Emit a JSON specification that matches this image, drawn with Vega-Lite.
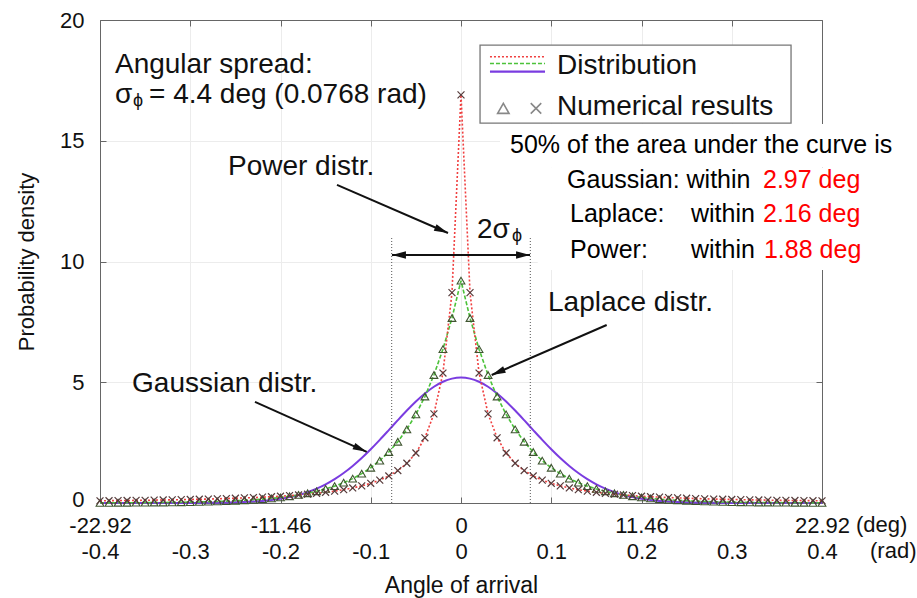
{
  "$schema": "https://vega.github.io/schema/vega-lite/v6.json",
  "width": 722,
  "height": 483,
  "autosize": {"type": "none"},
  "padding": {"left": 100, "top": 20, "right": 95, "bottom": 95},
  "background": "white",
  "config": {
    "font": "Liberation Sans",
    "view": {"stroke": null},
    "axis": {"domainColor": "#666", "tickColor": "#666", "labelColor": "#111", "titleColor": "#111", "labelFont": "Liberation Sans", "titleFont": "Liberation Sans", "titleFontWeight": "normal", "grid": false}
  },
  "datasets": {
    "curves": [
      {"x": -0.4, "gauss": 0, "laplace": 0.006, "power": 0.091},
      {"x": -0.39, "gauss": 0, "laplace": 0.007, "power": 0.095},
      {"x": -0.38, "gauss": 0, "laplace": 0.008, "power": 0.099},
      {"x": -0.37, "gauss": 0, "laplace": 0.010, "power": 0.103},
      {"x": -0.36, "gauss": 0, "laplace": 0.012, "power": 0.108},
      {"x": -0.35, "gauss": 0, "laplace": 0.015, "power": 0.113},
      {"x": -0.34, "gauss": 0, "laplace": 0.018, "power": 0.119},
      {"x": -0.33, "gauss": 0.001, "laplace": 0.021, "power": 0.125},
      {"x": -0.32, "gauss": 0.001, "laplace": 0.025, "power": 0.131},
      {"x": -0.31, "gauss": 0.002, "laplace": 0.031, "power": 0.139},
      {"x": -0.3, "gauss": 0.003, "laplace": 0.037, "power": 0.146},
      {"x": -0.29, "gauss": 0.004, "laplace": 0.044, "power": 0.155},
      {"x": -0.28, "gauss": 0.007, "laplace": 0.053, "power": 0.164},
      {"x": -0.27, "gauss": 0.011, "laplace": 0.064, "power": 0.174},
      {"x": -0.26, "gauss": 0.017, "laplace": 0.077, "power": 0.185},
      {"x": -0.25, "gauss": 0.026, "laplace": 0.092, "power": 0.197},
      {"x": -0.24, "gauss": 0.039, "laplace": 0.111, "power": 0.211},
      {"x": -0.23, "gauss": 0.059, "laplace": 0.133, "power": 0.226},
      {"x": -0.22, "gauss": 0.086, "laplace": 0.160, "power": 0.242},
      {"x": -0.21, "gauss": 0.124, "laplace": 0.193, "power": 0.261},
      {"x": -0.2, "gauss": 0.175, "laplace": 0.232, "power": 0.282},
      {"x": -0.19, "gauss": 0.243, "laplace": 0.278, "power": 0.306},
      {"x": -0.18, "gauss": 0.333, "laplace": 0.335, "power": 0.334},
      {"x": -0.17, "gauss": 0.448, "laplace": 0.402, "power": 0.365},
      {"x": -0.16, "gauss": 0.593, "laplace": 0.484, "power": 0.402},
      {"x": -0.15, "gauss": 0.771, "laplace": 0.582, "power": 0.444},
      {"x": -0.14, "gauss": 0.986, "laplace": 0.699, "power": 0.493},
      {"x": -0.13, "gauss": 1.240, "laplace": 0.841, "power": 0.552},
      {"x": -0.12, "gauss": 1.533, "laplace": 1.010, "power": 0.623},
      {"x": -0.11, "gauss": 1.862, "laplace": 1.215, "power": 0.709},
      {"x": -0.1, "gauss": 2.225, "laplace": 1.460, "power": 0.815},
      {"x": -0.09, "gauss": 2.614, "laplace": 1.756, "power": 0.948},
      {"x": -0.08, "gauss": 3.019, "laplace": 2.110, "power": 1.119},
      {"x": -0.07, "gauss": 3.429, "laplace": 2.537, "power": 1.343},
      {"x": -0.06, "gauss": 3.828, "laplace": 3.050, "power": 1.646},
      {"x": -0.05, "gauss": 4.203, "laplace": 3.667, "power": 2.07},
      {"x": -0.04, "gauss": 4.536, "laplace": 4.408, "power": 2.70},
      {"x": -0.03, "gauss": 4.813, "laplace": 5.299, "power": 3.69},
      {"x": -0.02, "gauss": 5.021, "laplace": 6.371, "power": 5.38},
      {"x": -0.01, "gauss": 5.151, "laplace": 7.659, "power": 8.71},
      {"x": 0, "gauss": 5.195, "laplace": 9.207, "power": 16.9},
      {"x": 0.01, "gauss": 5.151, "laplace": 7.659, "power": 8.71},
      {"x": 0.02, "gauss": 5.021, "laplace": 6.371, "power": 5.38},
      {"x": 0.03, "gauss": 4.813, "laplace": 5.299, "power": 3.69},
      {"x": 0.04, "gauss": 4.536, "laplace": 4.408, "power": 2.70},
      {"x": 0.05, "gauss": 4.203, "laplace": 3.667, "power": 2.07},
      {"x": 0.06, "gauss": 3.828, "laplace": 3.050, "power": 1.646},
      {"x": 0.07, "gauss": 3.429, "laplace": 2.537, "power": 1.343},
      {"x": 0.08, "gauss": 3.019, "laplace": 2.110, "power": 1.119},
      {"x": 0.09, "gauss": 2.614, "laplace": 1.756, "power": 0.948},
      {"x": 0.1, "gauss": 2.225, "laplace": 1.460, "power": 0.815},
      {"x": 0.11, "gauss": 1.862, "laplace": 1.215, "power": 0.709},
      {"x": 0.12, "gauss": 1.533, "laplace": 1.010, "power": 0.623},
      {"x": 0.13, "gauss": 1.240, "laplace": 0.841, "power": 0.552},
      {"x": 0.14, "gauss": 0.986, "laplace": 0.699, "power": 0.493},
      {"x": 0.15, "gauss": 0.771, "laplace": 0.582, "power": 0.444},
      {"x": 0.16, "gauss": 0.593, "laplace": 0.484, "power": 0.402},
      {"x": 0.17, "gauss": 0.448, "laplace": 0.402, "power": 0.365},
      {"x": 0.18, "gauss": 0.333, "laplace": 0.335, "power": 0.334},
      {"x": 0.19, "gauss": 0.243, "laplace": 0.278, "power": 0.306},
      {"x": 0.2, "gauss": 0.175, "laplace": 0.232, "power": 0.282},
      {"x": 0.21, "gauss": 0.124, "laplace": 0.193, "power": 0.261},
      {"x": 0.22, "gauss": 0.086, "laplace": 0.160, "power": 0.242},
      {"x": 0.23, "gauss": 0.059, "laplace": 0.133, "power": 0.226},
      {"x": 0.24, "gauss": 0.039, "laplace": 0.111, "power": 0.211},
      {"x": 0.25, "gauss": 0.026, "laplace": 0.092, "power": 0.197},
      {"x": 0.26, "gauss": 0.017, "laplace": 0.077, "power": 0.185},
      {"x": 0.27, "gauss": 0.011, "laplace": 0.064, "power": 0.174},
      {"x": 0.28, "gauss": 0.007, "laplace": 0.053, "power": 0.164},
      {"x": 0.29, "gauss": 0.004, "laplace": 0.044, "power": 0.155},
      {"x": 0.3, "gauss": 0.003, "laplace": 0.037, "power": 0.146},
      {"x": 0.31, "gauss": 0.002, "laplace": 0.031, "power": 0.139},
      {"x": 0.32, "gauss": 0.001, "laplace": 0.025, "power": 0.131},
      {"x": 0.33, "gauss": 0.001, "laplace": 0.021, "power": 0.125},
      {"x": 0.34, "gauss": 0, "laplace": 0.018, "power": 0.119},
      {"x": 0.35, "gauss": 0, "laplace": 0.015, "power": 0.113},
      {"x": 0.36, "gauss": 0, "laplace": 0.012, "power": 0.108},
      {"x": 0.37, "gauss": 0, "laplace": 0.010, "power": 0.103},
      {"x": 0.38, "gauss": 0, "laplace": 0.008, "power": 0.099},
      {"x": 0.39, "gauss": 0, "laplace": 0.007, "power": 0.095},
      {"x": 0.4, "gauss": 0, "laplace": 0.006, "power": 0.091}
    ],
    "vlines": [
      {"x": -0.0768, "y0": 0, "y1": 11},
      {"x": 0.0768, "y0": 0, "y1": 11}
    ],
    "arrows": [
      {"name": "power", "x": -0.1374, "y": 13.17, "x2": -0.0144, "y2": 11.18},
      {"name": "gaussian", "x": -0.2283, "y": 4.19, "x2": -0.1045, "y2": 2.12},
      {"name": "laplace", "x": 0.1614, "y": 7.37, "x2": 0.034, "y2": 5.30},
      {"name": "span", "x": -0.0765, "y": 10.27, "x2": 0.0765, "y2": 10.27}
    ],
    "boxes": [
      {"kind": "legend", "x": 0.0211, "x2": 0.3657, "y": 15.73, "y2": 18.96},
      {"kind": "mask", "x": 0.0432, "x2": 0.5053, "y": 13.9, "y2": 15.69},
      {"kind": "mask", "x": 0.085, "x2": 0.5053, "y": 9.65, "y2": 13.9}
    ],
    "legendlines": [
      {"series": "power", "x": 0.0321, "x2": 0.0931, "y": 18.48},
      {"series": "laplace", "x": 0.0321, "x2": 0.0931, "y": 18.2},
      {"series": "gauss", "x": 0.0321, "x2": 0.0931, "y": 17.86}
    ],
    "legendsymbols": [
      {"series": "laplace", "x": 0.0469, "y": 16.34},
      {"series": "power", "x": 0.0831, "y": 16.34}
    ],
    "texts": [
      {"kind": "ann", "label": "Angular spread:", "x": -0.3834, "y": 17.82},
      {"kind": "ann", "label": "σ", "x": -0.3834, "y": 16.56},
      {"kind": "ann", "label": "= 4.4 deg (0.0768 rad)", "x": -0.3457, "y": 16.56},
      {"kind": "ann", "label": "Power distr.", "x": -0.2582, "y": 13.58},
      {"kind": "ann", "label": "Gaussian distr.", "x": -0.3645, "y": 4.61},
      {"kind": "ann", "label": "Laplace distr.", "x": 0.0964, "y": 7.95},
      {"kind": "ann", "label": "2σ", "x": 0.0177, "y": 10.97},
      {"kind": "ann", "label": "Distribution", "x": 0.1064, "y": 17.76},
      {"kind": "ann", "label": "Numerical results", "x": 0.1064, "y": 16.07},
      {"kind": "sub", "label": "ϕ", "x": -0.3634, "y": 16.44},
      {"kind": "sub", "label": "ϕ", "x": 0.0565, "y": 10.85},
      {"kind": "box", "label": "50% of the area under the curve is", "x": 0.0543, "y": 14.49},
      {"kind": "box", "label": "Gaussian: within", "x": 0.1175, "y": 13.04},
      {"kind": "box", "label": "Laplace:", "x": 0.1208, "y": 11.64},
      {"kind": "box", "label": "within", "x": 0.2548, "y": 11.64},
      {"kind": "box", "label": "Power:", "x": 0.1208, "y": 10.14},
      {"kind": "box", "label": "within", "x": 0.2548, "y": 10.14},
      {"kind": "boxred", "label": "2.97 deg", "x": 0.3346, "y": 13.04},
      {"kind": "boxred", "label": "2.16 deg", "x": 0.3346, "y": 11.64},
      {"kind": "boxred", "label": "1.88 deg", "x": 0.3357, "y": 10.14},
      {"kind": "unit", "label": "(deg)", "x": 0.4377, "y": -0.9},
      {"kind": "unit", "label": "(rad)", "x": 0.4532, "y": -1.99}
    ]
  },
  "layer": [
    {
      "data": {"name": "curves"},
      "mark": {"type": "line", "color": "#7a3ce0", "strokeWidth": 2, "interpolate": "monotone"},
      "encoding": {
        "x": {"field": "x", "type": "quantitative", "scale": {"domain": [-0.4, 0.4], "nice": false, "zero": false},
          "axis": {"orient": "bottom", "values": [-0.4, -0.3, -0.2, -0.1, 0, 0.1, 0.2, 0.3, 0.4], "tickSize": -6, "labelFontSize": 22, "labelLineHeight": 26, "labelPadding": 18, "labelOverlap": false, "labelFlush": false, "labelExpr": "datum.value == -0.4 ? ['-22.92', '-0.4'] : datum.value == -0.3 ? ['', '-0.3'] : datum.value == -0.2 ? ['-11.46', '-0.2'] : datum.value == -0.1 ? ['', '-0.1'] : datum.value == 0 ? ['0', '0'] : datum.value == 0.1 ? ['', '0.1'] : datum.value == 0.2 ? ['11.46', '0.2'] : datum.value == 0.3 ? ['', '0.3'] : ['22.92', '0.4']", "title": "Angle of arrival", "titleFontSize": 23, "titlePadding": 12, "grid": true, "gridColor": "#ececec"}},
        "y": {"field": "gauss", "type": "quantitative", "scale": {"domain": [0, 20], "nice": false},
          "axis": {"orient": "left", "values": [0, 5, 10, 15, 20], "tickSize": -6, "labelFontSize": 22, "labelPadding": 22, "labelOffset": {"condition": {"test": "datum.value == 0", "value": -4}, "value": 0}, "title": "Probability density", "titleFontSize": 22, "titlePadding": 21, "grid": true, "gridColor": "#ececec"}}
      }
    },
    {
      "data": {"name": "vlines"},
      "mark": {"type": "rule", "color": "#555", "strokeWidth": 1, "strokeDash": [1, 2]},
      "encoding": {
        "x": {"field": "x", "type": "quantitative", "scale": {"domain": [-0.4, 0.4], "nice": false, "zero": false},
          "axis": {"orient": "top", "values": [-0.4, -0.3, -0.2, -0.1, 0, 0.1, 0.2, 0.3, 0.4], "labels": false, "tickSize": -6, "title": null, "grid": false}},
        "y": {"field": "y0", "type": "quantitative", "scale": {"domain": [0, 20], "nice": false},
          "axis": {"orient": "right", "values": [0, 5, 10, 15, 20], "labels": false, "tickSize": -6, "title": null, "grid": false}},
        "y2": {"field": "y1"}
      }
    },
    {
      "data": {"name": "curves"},
      "mark": {"type": "line", "color": "#4cc23a", "strokeWidth": 1.6, "strokeDash": [4, 2]},
      "encoding": {
        "x": {"field": "x", "type": "quantitative", "axis": null},
        "y": {"field": "laplace", "type": "quantitative", "axis": null}
      }
    },
    {
      "data": {"name": "curves"},
      "mark": {"type": "line", "color": "#f04040", "strokeWidth": 1.6, "strokeDash": [2, 2]},
      "encoding": {
        "x": {"field": "x", "type": "quantitative", "axis": null},
        "y": {"field": "power", "type": "quantitative", "axis": null}
      }
    },
    {
      "data": {"name": "curves"},
      "mark": {"type": "point", "shape": "triangle-up", "size": 60, "filled": false, "stroke": "#3f5530", "strokeWidth": 1.1, "opacity": 1},
      "encoding": {
        "x": {"field": "x", "type": "quantitative", "axis": null},
        "y": {"field": "laplace", "type": "quantitative", "axis": null}
      }
    },
    {
      "data": {"name": "curves"},
      "mark": {"type": "point", "shape": "M-1,-1L1,1M-1,1L1,-1", "size": 48, "filled": false, "stroke": "#553a3a", "strokeWidth": 1.2, "opacity": 1},
      "encoding": {
        "x": {"field": "x", "type": "quantitative", "axis": null},
        "y": {"field": "power", "type": "quantitative", "axis": null}
      }
    },
    {
      "data": {"name": "arrows"},
      "mark": {"type": "rule", "color": "#111", "strokeWidth": 2},
      "encoding": {
        "x": {"field": "x", "type": "quantitative", "axis": null},
        "y": {"field": "y", "type": "quantitative", "axis": null},
        "x2": {"field": "x2"},
        "y2": {"field": "y2"}
      }
    },
    {
      "data": {"name": "arrows"},
      "transform": [{"filter": "datum.name == 'power'"}],
      "mark": {"type": "point", "shape": "M0,0L-2,-0.5L-2,0.5Z", "size": 196, "filled": true, "color": "#111", "opacity": 1, "angle": 23.4},
      "encoding": {
        "x": {"field": "x2", "type": "quantitative", "axis": null},
        "y": {"field": "y2", "type": "quantitative", "axis": null}
      }
    },
    {
      "data": {"name": "arrows"},
      "transform": [{"filter": "datum.name == 'gaussian'"}],
      "mark": {"type": "point", "shape": "M0,0L-2,-0.5L-2,0.5Z", "size": 196, "filled": true, "color": "#111", "opacity": 1, "angle": 24.1},
      "encoding": {
        "x": {"field": "x2", "type": "quantitative", "axis": null},
        "y": {"field": "y2", "type": "quantitative", "axis": null}
      }
    },
    {
      "data": {"name": "arrows"},
      "transform": [{"filter": "datum.name == 'laplace'"}],
      "mark": {"type": "point", "shape": "M0,0L-2,-0.5L-2,0.5Z", "size": 196, "filled": true, "color": "#111", "opacity": 1, "angle": 156.5},
      "encoding": {
        "x": {"field": "x2", "type": "quantitative", "axis": null},
        "y": {"field": "y2", "type": "quantitative", "axis": null}
      }
    },
    {
      "data": {"name": "arrows"},
      "transform": [{"filter": "datum.name == 'span'"}],
      "mark": {"type": "point", "shape": "M0,0L-2,-0.55L-2,0.55Z", "size": 196, "filled": true, "color": "#111", "opacity": 1, "angle": 180},
      "encoding": {
        "x": {"field": "x", "type": "quantitative", "axis": null},
        "y": {"field": "y", "type": "quantitative", "axis": null}
      }
    },
    {
      "data": {"name": "arrows"},
      "transform": [{"filter": "datum.name == 'span'"}],
      "mark": {"type": "point", "shape": "M0,0L-2,-0.55L-2,0.55Z", "size": 196, "filled": true, "color": "#111", "opacity": 1, "angle": 0},
      "encoding": {
        "x": {"field": "x2", "type": "quantitative", "axis": null},
        "y": {"field": "y2", "type": "quantitative", "axis": null}
      }
    },
    {
      "data": {"name": "boxes"},
      "transform": [{"filter": "datum.kind == 'legend'"}],
      "mark": {"type": "rect", "fill": "white", "stroke": "#777", "strokeWidth": 1.3},
      "encoding": {
        "x": {"field": "x", "type": "quantitative", "axis": null},
        "x2": {"field": "x2"},
        "y": {"field": "y", "type": "quantitative", "axis": null},
        "y2": {"field": "y2"}
      }
    },
    {
      "data": {"name": "boxes"},
      "transform": [{"filter": "datum.kind == 'mask'"}],
      "mark": {"type": "rect", "fill": "white", "strokeWidth": 0},
      "encoding": {
        "x": {"field": "x", "type": "quantitative", "axis": null},
        "x2": {"field": "x2"},
        "y": {"field": "y", "type": "quantitative", "axis": null},
        "y2": {"field": "y2"}
      }
    },
    {
      "data": {"name": "legendlines"},
      "transform": [{"filter": "datum.series == 'power'"}],
      "mark": {"type": "rule", "color": "#f04040", "strokeWidth": 1.6, "strokeDash": [2, 2]},
      "encoding": {
        "x": {"field": "x", "type": "quantitative", "axis": null},
        "x2": {"field": "x2"},
        "y": {"field": "y", "type": "quantitative", "axis": null}
      }
    },
    {
      "data": {"name": "legendlines"},
      "transform": [{"filter": "datum.series == 'laplace'"}],
      "mark": {"type": "rule", "color": "#4cc23a", "strokeWidth": 1.6, "strokeDash": [4, 2]},
      "encoding": {
        "x": {"field": "x", "type": "quantitative", "axis": null},
        "x2": {"field": "x2"},
        "y": {"field": "y", "type": "quantitative", "axis": null}
      }
    },
    {
      "data": {"name": "legendlines"},
      "transform": [{"filter": "datum.series == 'gauss'"}],
      "mark": {"type": "rule", "color": "#7a3ce0", "strokeWidth": 2.2},
      "encoding": {
        "x": {"field": "x", "type": "quantitative", "axis": null},
        "x2": {"field": "x2"},
        "y": {"field": "y", "type": "quantitative", "axis": null}
      }
    },
    {
      "data": {"name": "legendsymbols"},
      "transform": [{"filter": "datum.series == 'laplace'"}],
      "mark": {"type": "point", "shape": "triangle-up", "size": 130, "filled": false, "stroke": "#888", "strokeWidth": 1.6, "opacity": 1},
      "encoding": {
        "x": {"field": "x", "type": "quantitative", "axis": null},
        "y": {"field": "y", "type": "quantitative", "axis": null}
      }
    },
    {
      "data": {"name": "legendsymbols"},
      "transform": [{"filter": "datum.series == 'power'"}],
      "mark": {"type": "point", "shape": "M-1,-1L1,1M-1,1L1,-1", "size": 110, "filled": false, "stroke": "#888", "strokeWidth": 1.6, "opacity": 1},
      "encoding": {
        "x": {"field": "x", "type": "quantitative", "axis": null},
        "y": {"field": "y", "type": "quantitative", "axis": null}
      }
    },
    {
      "data": {"name": "texts"},
      "transform": [{"filter": "datum.kind == 'ann'"}],
      "mark": {"type": "text", "align": "left", "baseline": "alphabetic", "fontSize": 28, "color": "#111"},
      "encoding": {
        "x": {"field": "x", "type": "quantitative", "axis": null},
        "y": {"field": "y", "type": "quantitative", "axis": null},
        "text": {"field": "label"}
      }
    },
    {
      "data": {"name": "texts"},
      "transform": [{"filter": "datum.kind == 'sub'"}],
      "mark": {"type": "text", "align": "left", "baseline": "alphabetic", "fontSize": 18, "color": "#111"},
      "encoding": {
        "x": {"field": "x", "type": "quantitative", "axis": null},
        "y": {"field": "y", "type": "quantitative", "axis": null},
        "text": {"field": "label"}
      }
    },
    {
      "data": {"name": "texts"},
      "transform": [{"filter": "datum.kind == 'box'"}],
      "mark": {"type": "text", "align": "left", "baseline": "alphabetic", "fontSize": 25, "color": "#000"},
      "encoding": {
        "x": {"field": "x", "type": "quantitative", "axis": null},
        "y": {"field": "y", "type": "quantitative", "axis": null},
        "text": {"field": "label"}
      }
    },
    {
      "data": {"name": "texts"},
      "transform": [{"filter": "datum.kind == 'boxred'"}],
      "mark": {"type": "text", "align": "left", "baseline": "alphabetic", "fontSize": 25, "color": "#ff0000"},
      "encoding": {
        "x": {"field": "x", "type": "quantitative", "axis": null},
        "y": {"field": "y", "type": "quantitative", "axis": null},
        "text": {"field": "label"}
      }
    },
    {
      "data": {"name": "texts"},
      "transform": [{"filter": "datum.kind == 'unit'"}],
      "mark": {"type": "text", "align": "left", "baseline": "middle", "fontSize": 22, "color": "#111"},
      "encoding": {
        "x": {"field": "x", "type": "quantitative", "axis": null},
        "y": {"field": "y", "type": "quantitative", "axis": null},
        "text": {"field": "label"}
      }
    }
  ],
  "resolve": {"axis": {"x": "independent", "y": "independent"}}
}
